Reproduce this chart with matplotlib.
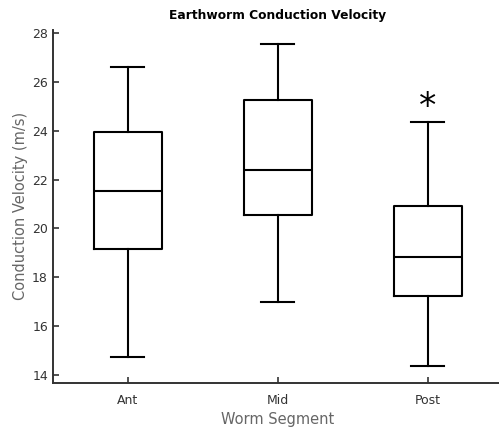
import matplotlib
matplotlib.use("Agg")
import matplotlib.pyplot as plt

# ── Box summary values (m/s) ─────────────────────────────────────────────────
segments = ["Ant", "Mid", "Post"]
whisker_low = [14.72, 17.0, 14.37]
q1 = [19.17, 20.55, 17.23]
medians = [21.55, 22.39, 18.82]
q3 = [23.96, 25.26, 20.92]
whisker_high = [26.62, 27.54, 24.37]
yticks = [14, 16, 18, 20, 22, 24, 26, 28]

stats = [
    {"label": seg, "whislo": lo, "q1": a, "med": m, "q3": b, "whishi": hi, "fliers": []}
    for seg, lo, a, m, b, hi in zip(segments, whisker_low, q1, medians, q3, whisker_high)
]

fig = plt.figure(figsize=(4.99, 4.28), dpi=100)
ax = fig.add_axes([0.106, 0.106, 0.902, 0.824])

line = dict(color="black", linewidth=1.5)
ax.bxp(stats, widths=0.45, showfliers=False,
       boxprops=line, medianprops=line, whiskerprops=line,
       capprops=line, capwidths=0.22)

# significance marker above the posterior segment
ax.text(3, 24.95, "*", ha="center", va="center", fontsize=25)

ax.set_xlim(0.5, 3.5)
ax.set_ylim(13.69, 28.12)
ax.set_yticks(yticks)

ax.spines[["top", "right"]].set_visible(False)
for side in ["left", "bottom"]:
    ax.spines[side].set_color("#333333")
    ax.spines[side].set_linewidth(1.4)
ax.tick_params(direction="in", length=4, width=1.2, color="#333333",
               labelsize=9, labelcolor="#333333")
ax.tick_params(axis="x", pad=8)

ax.set_title("Earthworm Conduction Velocity", fontsize=8.8, fontweight="bold", pad=8)
ax.set_xlabel("Worm Segment", fontsize=10.5, color="#666666", labelpad=4)
ax.set_ylabel("Conduction Velocity (m/s)", fontsize=10.5, color="#666666", labelpad=3)

fig.savefig("out.png", dpi=100)
